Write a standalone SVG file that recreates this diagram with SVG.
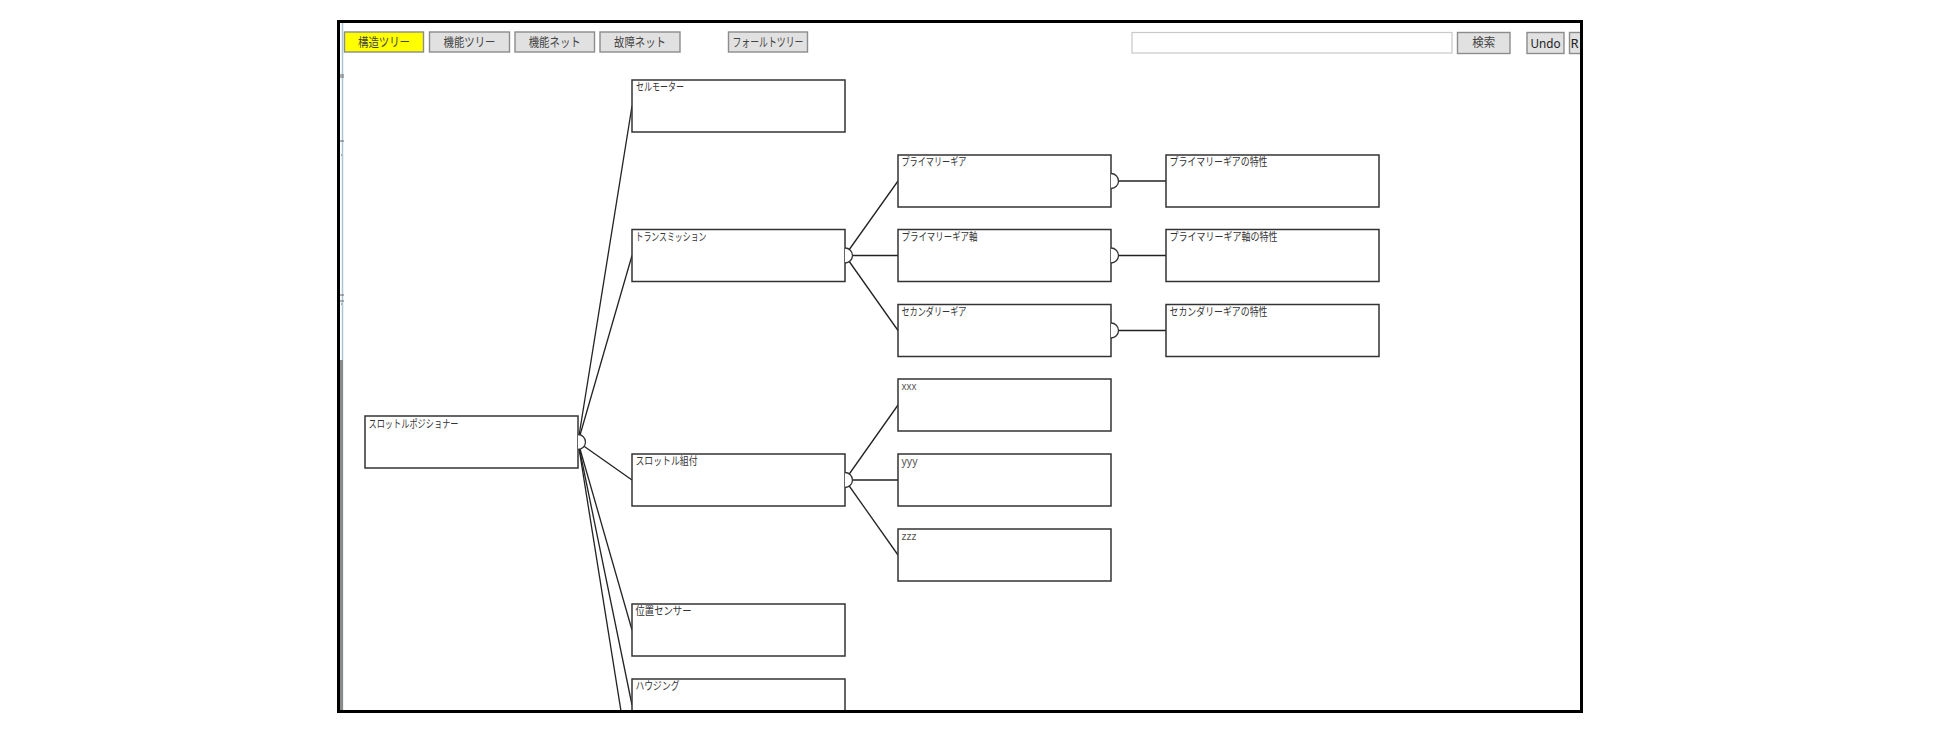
<svg xmlns="http://www.w3.org/2000/svg" width="1955" height="750" viewBox="0 0 1955 750">
<style>
.btn{fill:#e1e1e1;stroke:#8c8c8c;stroke-width:1.4}
.btnon{fill:#ffff00;stroke:#8c8c8c;stroke-width:1.4}
.bt{font-family:"Noto Sans CJK JP","Noto Sans",sans-serif;font-size:12.5px;fill:#444;text-anchor:middle}
.box{fill:#fff;stroke:#333;stroke-width:1.5}
.lbl{font-family:"Noto Sans CJK JP","Noto Sans",sans-serif;font-size:11px;fill:#333}
.lat{font-family:"Noto Sans","Liberation Sans",sans-serif;font-size:11px;fill:#555}
.con line{stroke:#222;stroke-width:1.3}
.semi{fill:#fff;stroke:#333;stroke-width:1.3}
</style>
<defs>
<clipPath id="view"><rect x="340" y="23" width="1240" height="687"/></clipPath>
</defs>
<rect x="0" y="0" width="1955" height="750" fill="#fff"/>

<g id="left-edge">
<line x1="342.5" y1="23" x2="342.5" y2="710" stroke="#aac6d6" stroke-width="1.5"/>
<rect x="340" y="360" width="3" height="350" fill="#8a8a8a"/>
<g stroke="#666" stroke-width="1">
<line x1="340" y1="75" x2="344" y2="75"/><line x1="340" y1="77" x2="344" y2="77"/>
<line x1="340" y1="141" x2="344" y2="141"/><line x1="341" y1="155" x2="342" y2="155"/>
<line x1="340" y1="295" x2="344" y2="295"/><line x1="340" y1="301" x2="344" y2="301"/><line x1="341" y1="304" x2="342" y2="304"/>
</g>
</g>

<g clip-path="url(#view)">
<g id="toolbar">
<g id="btn-kouzou"><rect class="btnon" x="344.5" y="32" width="79" height="20"/><text class="bt" x="384" y="46.5" textLength="52" lengthAdjust="spacingAndGlyphs">構造ツリー</text></g>
<g id="btn-kinou-tree"><rect class="btn" x="429.5" y="32" width="80" height="20"/><text class="bt" x="469.5" y="46.5" textLength="52" lengthAdjust="spacingAndGlyphs">機能ツリー</text></g>
<g id="btn-kinou-net"><rect class="btn" x="515" y="32" width="79.5" height="20"/><text class="bt" x="554.7" y="46.5" textLength="52" lengthAdjust="spacingAndGlyphs">機能ネット</text></g>
<g id="btn-koshou-net"><rect class="btn" x="600" y="32" width="80" height="20"/><text class="bt" x="640" y="46.5" textLength="52" lengthAdjust="spacingAndGlyphs">故障ネット</text></g>
<g id="btn-fault"><rect class="btn" x="728.5" y="32" width="79" height="20"/><text class="bt" x="768" y="46.5" textLength="71" lengthAdjust="spacingAndGlyphs">フォールトツリー</text></g>
<g id="search-input"><rect x="1132" y="32.5" width="320" height="20.5" fill="#fff" stroke="#c8c8c8" stroke-width="1.2"/></g>
<g id="btn-search"><rect class="btn" x="1457.5" y="32.5" width="52.5" height="21"/><text class="bt" x="1483.7" y="47" textLength="23" lengthAdjust="spacingAndGlyphs">検索</text></g>
<g id="btn-undo"><rect class="btn" x="1527" y="32.5" width="37" height="21"/><text class="bt" x="1545.5" y="47.5" style="fill:#222;font-family:'Noto Sans','Liberation Sans',sans-serif;font-size:13px" textLength="30" lengthAdjust="spacingAndGlyphs">Undo</text></g>
<g id="btn-r"><rect class="btn" x="1569.5" y="32.5" width="20" height="21"/><text x="1570.5" y="47.5" style="fill:#222;font-family:'Noto Sans','Liberation Sans',sans-serif;font-size:13px">R</text></g>
</g>

<g id="connectors" class="con">
<line x1="578" y1="442" x2="632" y2="106"/>
<line x1="578" y1="442" x2="632" y2="255.5"/>
<line x1="578" y1="442" x2="632" y2="480"/>
<line x1="578" y1="442" x2="632" y2="630"/>
<line x1="578" y1="442" x2="632" y2="705"/>
<line x1="578" y1="442" x2="632" y2="780"/>
<line x1="845" y1="255.5" x2="898" y2="181"/>
<line x1="845" y1="255.5" x2="898" y2="255.5"/>
<line x1="845" y1="255.5" x2="898" y2="330.5"/>
<line x1="845" y1="480" x2="898" y2="405"/>
<line x1="845" y1="480" x2="898" y2="480"/>
<line x1="845" y1="480" x2="898" y2="555"/>
<line x1="1111" y1="181" x2="1166" y2="181"/>
<line x1="1111" y1="255.5" x2="1166" y2="255.5"/>
<line x1="1111" y1="330.5" x2="1166" y2="330.5"/>
</g>

<g id="n-root"><rect class="box" x="365" y="416" width="213" height="52"/><text class="lbl" x="368.5" y="427.5" textLength="90" lengthAdjust="spacingAndGlyphs">スロットルポジショナー</text><path class="semi" d="M578,434.5 A7.5,7.5 0 0 1 578,449.5"/></g>

<g id="n-cellmotor"><rect class="box" x="632" y="80" width="213" height="52"/><text class="lbl" x="636" y="91" textLength="48" lengthAdjust="spacingAndGlyphs">セルモーター</text></g>
<g id="n-transmission"><rect class="box" x="632" y="229.5" width="213" height="52"/><text class="lbl" x="635.5" y="240.5" textLength="71" lengthAdjust="spacingAndGlyphs">トランスミッション</text><path class="semi" d="M845,248 A7.5,7.5 0 0 1 845,263"/></g>
<g id="n-throttle-assy"><rect class="box" x="632" y="454" width="213" height="52"/><text class="lbl" x="635.5" y="465" textLength="62" lengthAdjust="spacingAndGlyphs">スロットル組付</text><path class="semi" d="M845,472.5 A7.5,7.5 0 0 1 845,487.5"/></g>
<g id="n-position-sensor"><rect class="box" x="632" y="604" width="213" height="52"/><text class="lbl" x="635.5" y="615" textLength="56" lengthAdjust="spacingAndGlyphs">位置センサー</text></g>
<g id="n-housing"><rect class="box" x="632" y="679" width="213" height="52"/><text class="lbl" x="635.5" y="690" textLength="44" lengthAdjust="spacingAndGlyphs">ハウジング</text></g>

<g id="n-primary-gear"><rect class="box" x="898" y="155" width="213" height="52"/><text class="lbl" x="901.5" y="166" textLength="65" lengthAdjust="spacingAndGlyphs">プライマリーギア</text><path class="semi" d="M1111,173.5 A7.5,7.5 0 0 1 1111,188.5"/></g>
<g id="n-primary-shaft"><rect class="box" x="898" y="229.5" width="213" height="52"/><text class="lbl" x="901.5" y="240.5" textLength="76" lengthAdjust="spacingAndGlyphs">プライマリーギア軸</text><path class="semi" d="M1111,248 A7.5,7.5 0 0 1 1111,263"/></g>
<g id="n-secondary-gear"><rect class="box" x="898" y="304.5" width="213" height="52"/><text class="lbl" x="901.5" y="315.5" textLength="65" lengthAdjust="spacingAndGlyphs">セカンダリーギア</text><path class="semi" d="M1111,323 A7.5,7.5 0 0 1 1111,338"/></g>
<g id="n-xxx"><rect class="box" x="898" y="379" width="213" height="52"/><text class="lat" x="901.5" y="390" textLength="15" lengthAdjust="spacingAndGlyphs">xxx</text></g>
<g id="n-yyy"><rect class="box" x="898" y="454" width="213" height="52"/><text class="lat" x="901.5" y="465" textLength="16" lengthAdjust="spacingAndGlyphs">yyy</text></g>
<g id="n-zzz"><rect class="box" x="898" y="529" width="213" height="52"/><text class="lat" x="901.5" y="540" textLength="15" lengthAdjust="spacingAndGlyphs">zzz</text></g>

<g id="n-primary-gear-char"><rect class="box" x="1166" y="155" width="213" height="52"/><text class="lbl" x="1169.5" y="166" textLength="98" lengthAdjust="spacingAndGlyphs">プライマリーギアの特性</text></g>
<g id="n-primary-shaft-char"><rect class="box" x="1166" y="229.5" width="213" height="52"/><text class="lbl" x="1169.5" y="240.5" textLength="108" lengthAdjust="spacingAndGlyphs">プライマリーギア軸の特性</text></g>
<g id="n-secondary-gear-char"><rect class="box" x="1166" y="304.5" width="213" height="52"/><text class="lbl" x="1169.5" y="315.5" textLength="98" lengthAdjust="spacingAndGlyphs">セカンダリーギアの特性</text></g>
</g>

<rect id="frame" x="338.5" y="21.5" width="1243" height="690" fill="none" stroke="#000" stroke-width="3"/>
</svg>
